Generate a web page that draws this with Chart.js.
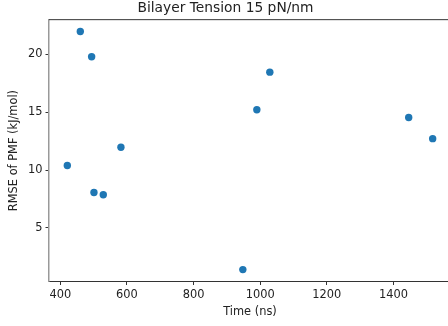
<!DOCTYPE html>
<html>
<head>
<meta charset="utf-8">
<script src="https://cdn.jsdelivr.net/npm/chart.js@4/dist/chart.umd.min.js"></script>
<style>
  html, body { margin: 0; padding: 0; background: #fff; overflow: hidden; }
  #wrap { width: 500px; height: 326px; }
</style>
</head>
<body>
<div id="wrap"><canvas id="c" width="500" height="326"></canvas></div>
<script>
// Simulation time (ns) and the RMSE of the PMF (kJ/mol) at that time
const timeNs = [460, 494, 1029, 990, 1446, 1518, 421, 582, 501, 529, 948];
const rmse   = [21.98, 19.8, 18.47, 15.22, 14.55, 12.72, 10.4, 11.98, 8.07, 7.87, 1.4];

const xTicks = [400, 600, 800, 1000, 1200, 1400];
const yTicks = [5, 10, 15, 20];

const titleText = 'Bilayer Tension 15 pN/nm';
const xLabel = 'Time (ns)';
const yLabel = 'RMSE of PMF (kJ/mol)';

const font = "'DejaVu Sans', sans-serif";
const points = timeNs.map((t, i) => ({ x: t, y: rmse[i] }));

// top spine, which Chart.js does not draw by itself
const topSpine = {
  id: 'topSpine',
  afterDraw(chart) {
    const { ctx, chartArea } = chart;
    ctx.save();
    ctx.strokeStyle = '#333';
    ctx.lineWidth = 1;
    ctx.beginPath();
    ctx.moveTo(chartArea.left, chartArea.top);
    ctx.lineTo(chartArea.right, chartArea.top);
    ctx.stroke();
    ctx.restore();
  }
};

new Chart(document.getElementById('c'), {
  type: 'scatter',
  data: {
    datasets: [{
      data: points,
      backgroundColor: '#1f77b4',
      borderColor: '#1f77b4',
      pointRadius: 3.7,
      pointHoverRadius: 3.7,
      borderWidth: 0
    }]
  },
  options: {
    responsive: false,
    animation: false,
    layout: { padding: { left: 0, right: 49, top: 0, bottom: 0 } },
    plugins: {
      legend: { display: false },
      tooltip: { enabled: false },
      title: {
        display: true,
        text: titleText,
        color: '#222',
        font: { family: font, size: 13.8, weight: 'normal' },
        padding: { top: 0.6, bottom: 2.5 }
      }
    },
    scales: {
      x: {
        type: 'linear',
        min: 366,
        max: 1573,
        afterBuildTicks(scale) { scale.ticks = xTicks.map(v => ({ value: v })); },
        afterFit(scale) { scale.height = 44.5; },
        border: { display: true, color: '#333', width: 1 },
        grid: { drawOnChartArea: false, drawTicks: true, tickLength: 3.5, color: '#333' },
        ticks: {
          color: '#222', padding: 3.5, maxRotation: 0,
          font: { family: font, size: 11.4 },
          callback: v => String(v)
        },
        title: {
          display: true, text: xLabel, color: '#222',
          font: { family: font, size: 11.4 }, padding: { top: 2, bottom: 7 }
        }
      },
      y: {
        type: 'linear',
        min: 0.37,
        max: 23.01,
        afterBuildTicks(scale) { scale.ticks = yTicks.map(v => ({ value: v })); },
        afterFit(scale) { scale.width = 49; },
        border: { display: true, color: '#999', width: 1.5 },
        grid: { drawOnChartArea: false, drawTicks: true, tickLength: 3.5, color: '#333' },
        ticks: {
          color: '#222', padding: 3,
          font: { family: font, size: 11.4 },
          callback: v => String(v)
        },
        title: {
          display: true, text: yLabel, color: '#222',
          font: { family: font, size: 11.4 }, padding: { top: 7, bottom: 0 }
        }
      }
    }
  },
  plugins: [topSpine]
});
</script>
</body>
</html>
